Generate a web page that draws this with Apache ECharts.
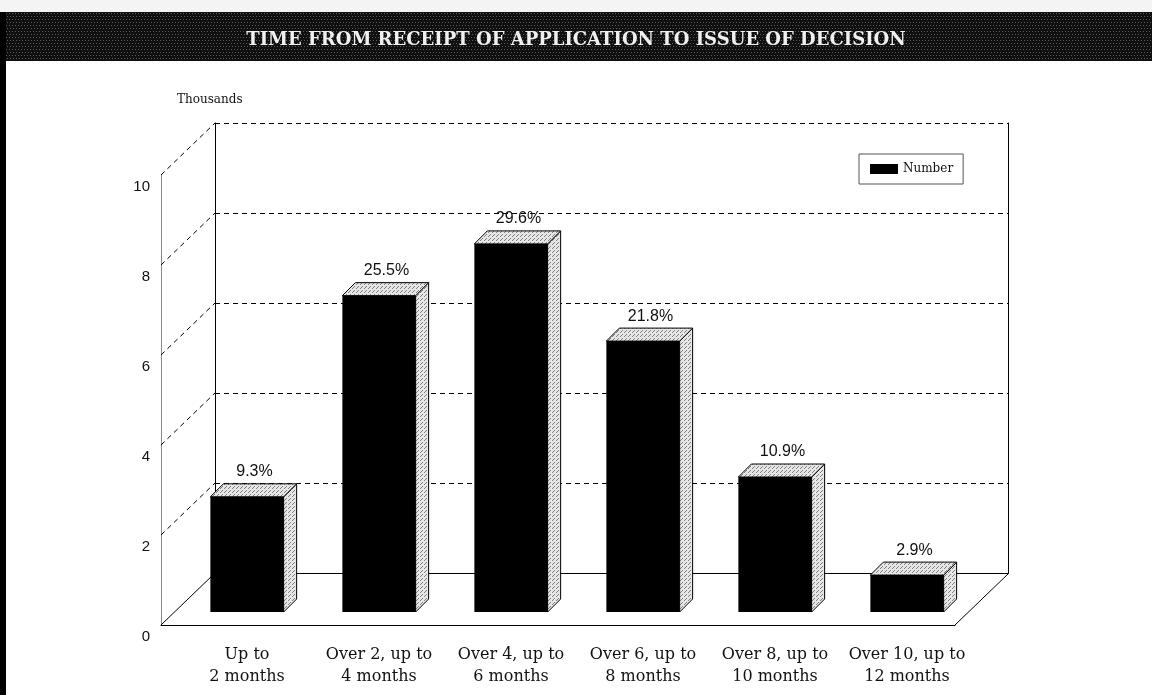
<!DOCTYPE html>
<html><head><meta charset="utf-8">
<script src="https://cdn.jsdelivr.net/npm/echarts@6/dist/echarts.min.js"></script>
<style>html,body{margin:0;padding:0;background:#fff;}#c{width:1152px;height:695px;}</style>
</head><body><div id="c"></div>
<script>
// ---- data ----
const chartTitle = 'TIME FROM RECEIPT OF APPLICATION TO ISSUE OF DECISION';
const unitLabel = 'Thousands';
const seriesName = 'Number';
const categories = ['Up to\n2 months','Over 2, up to\n4 months','Over 4, up to\n6 months','Over 6, up to\n8 months','Over 8, up to\n10 months','Over 10, up to\n12 months'];
const values = [2.56, 7.03, 8.18, 6.02, 3.00, 0.82];   // thousands
const shares = ['9.3%','25.5%','29.6%','21.8%','10.9%','2.9%'];
const yTicks = [0, 2, 4, 6, 8, 10];
const yMin = 0, yMax = 10, yStep = 2;

// ---- style / layout ----
const DEPTH_DX = 54, DEPTH_DY = 52;   // wall depth offset
const BAR_D = 13;                     // bar 3D depth
const serif = "'DejaVu Serif', 'Liberation Serif', serif";
const sans = "'Liberation Sans', Arial, sans-serif";

function makePattern(base, dot, size, dots) {
  const c = document.createElement('canvas');
  c.width = size; c.height = size;
  const g = c.getContext('2d');
  g.fillStyle = base; g.fillRect(0, 0, size, size);
  g.fillStyle = dot;
  dots.forEach(d => g.fillRect(d[0], d[1], 1, 1));
  return { image: c, repeat: 'repeat' };
}
const stipple = makePattern('#e6e6e6', '#808080', 4, [[0,0],[2,2],[1,3]]);
const bannerFill = makePattern('#101010', '#5a5a5a', 6, [[0,1],[3,1],[1,4],[4,4]]);

const chart = echarts.init(document.getElementById('c'), null, { renderer: 'canvas' });

const frameData = yTicks.map(v => [0, v, v === yMin ? 0 : 1]);
frameData.push([categories.length, yMin, 0]);

const option = {
  backgroundColor: '#ffffff',
  animation: false,
  title: {
    text: chartTitle, left: 'center', top: 26,
    textStyle: { color: '#f0f0f0', fontFamily: serif, fontWeight: 'bold', fontSize: 18 }
  },
  graphic: [
    { type: 'rect', z: -10, shape: { x: 0, y: 0, width: 1152, height: 12 }, style: { fill: '#f4f4f4' } },
    { type: 'rect', z: -10, shape: { x: 0, y: 12, width: 1152, height: 49 }, style: { fill: bannerFill } },
    { type: 'rect', z: -10, shape: { x: 0, y: 12, width: 6, height: 683 }, style: { fill: '#000' } }
  ],
  legend: {
    data: [seriesName], left: 859, top: 154, orient: 'vertical',
    backgroundColor: '#fff', borderColor: '#555', borderWidth: 1, borderRadius: 0,
    padding: [9, 10, 9, 11], itemWidth: 28, itemHeight: 10, itemGap: 6, icon: 'rect',
    textStyle: { fontFamily: serif, fontSize: 12, color: '#111' }
  },
  grid: [
    { left: 161, top: 175, width: 794, height: 450 },   // front plane
    { left: 215, top: 123, width: 793, height: 450 },   // back wall
    { left: 181, top: 162, width: 792, height: 450 }    // bar plane
  ],
  xAxis: [
    { gridIndex: 0, type: 'value', min: 0, max: categories.length, show: true,
      axisLine: { show: true, lineStyle: { color: '#000', width: 1 } },
      axisTick: { show: false }, axisLabel: { show: false }, splitLine: { show: false } },
    { gridIndex: 1, type: 'value', min: 0, max: categories.length,
      axisLine: { show: true, lineStyle: { color: '#000', width: 1 } },
      axisTick: { show: false }, axisLabel: { show: false }, splitLine: { show: false } },
    { gridIndex: 2, type: 'category', data: categories,
      axisLine: { show: false }, axisTick: { show: false }, splitLine: { show: false },
      axisLabel: { margin: 32, fontFamily: serif, fontSize: 16, lineHeight: 22, color: '#111', interval: 0 } }
  ],
  yAxis: [
    { gridIndex: 0, type: 'value', min: yMin, max: yMax, interval: yStep,
      name: unitLabel, nameLocation: 'end', nameGap: 69,
      nameTextStyle: { align: 'left', padding: [0, 0, 0, 16], fontFamily: serif, fontSize: 12, color: '#111' },
      axisLine: { show: true, lineStyle: { color: '#8a8a8a', width: 1 } },
      axisTick: { show: false }, splitLine: { show: false },
      axisLabel: { margin: 11, fontFamily: sans, fontSize: 15, color: '#111', verticalAlign: 'top', padding: [4, 0, 0, 0] } },
    { gridIndex: 1, type: 'value', min: yMin, max: yMax, interval: yStep,
      axisLine: { show: true, lineStyle: { color: '#000', width: 1 } },
      axisTick: { show: false }, axisLabel: { show: false },
      splitLine: { show: true, lineStyle: { color: '#000', width: 1, type: [5, 4] } } },
    { gridIndex: 1, type: 'value', min: yMin, max: yMax, interval: yStep, position: 'right',
      axisLine: { show: true, lineStyle: { color: '#000', width: 1 } },
      axisTick: { show: false }, axisLabel: { show: false }, splitLine: { show: false } },
    { gridIndex: 2, type: 'value', min: yMin, max: yMax, interval: yStep, show: false,
      splitLine: { show: false } }
  ],
  series: [
    {
      type: 'custom', name: 'frame', xAxisIndex: 0, yAxisIndex: 0, z: 1, silent: true,
      data: frameData,
      renderItem: function (params, api) {
        const p = api.coord([api.value(0), api.value(1)]);
        const dashed = api.value(2) === 1;
        return {
          type: 'line',
          shape: { x1: p[0], y1: p[1], x2: p[0] + DEPTH_DX, y2: p[1] - DEPTH_DY },
          style: { stroke: '#000', lineWidth: 1, lineDash: dashed ? [5, 4] : null }
        };
      }
    },
    {
      type: 'custom', name: seriesName, xAxisIndex: 2, yAxisIndex: 3, z: 5,
      itemStyle: { color: '#000' },
      data: values.map((v, i) => [i, v]),
      encode: { x: 0, y: 1 },
      renderItem: function (params, api) {
        const i = api.value(0), v = api.value(1);
        const base = api.coord([i, 0]);
        const top = api.coord([i, v]);
        const w = api.size([1, 0])[0] * 0.555;
        const x0 = base[0] - w / 2, x1 = base[0] + w / 2;
        const yb = base[1], yt = top[1], d = BAR_D;
        return {
          type: 'group',
          children: [
            { type: 'polygon', shape: { points: [[x1, yb], [x1, yt], [x1 + d, yt - d], [x1 + d, yb - d]] },
              style: { fill: stipple, stroke: '#000', lineWidth: 1 } },
            { type: 'polygon', shape: { points: [[x0, yt], [x1, yt], [x1 + d, yt - d], [x0 + d, yt - d]] },
              style: { fill: stipple, stroke: '#000', lineWidth: 1 } },
            { type: 'rect', shape: { x: x0, y: yt, width: w, height: yb - yt },
              style: { fill: '#000' } },
            { type: 'text',
              style: { text: shares[i], x: (x0 + x1) / 2 + d / 2 + 1, y: yt - d - 4,
                textAlign: 'center', textVerticalAlign: 'bottom', align: 'center', verticalAlign: 'bottom',
                font: '16px ' + sans, fill: '#111' } }
          ]
        };
      }
    }
  ]
};
chart.setOption(option);
</script>
</body></html>
